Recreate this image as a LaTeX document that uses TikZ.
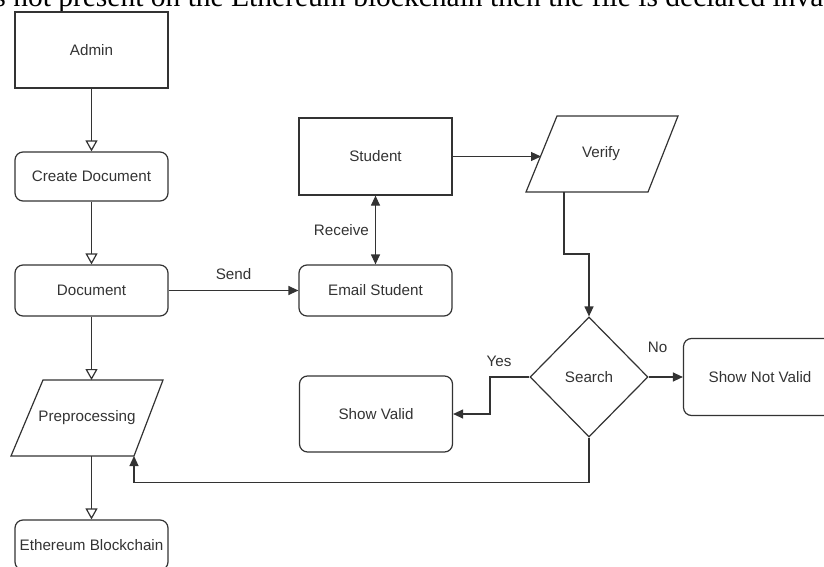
\documentclass[tikz,border=0pt]{standalone}
\usepackage{fontspec}
\setmainfont{Liberation Sans}
\newfontfamily\topserif{Liberation Serif}
\usetikzlibrary{arrows.meta,shapes.geometric}
\begin{document}
\begin{tikzpicture}[x=1pt,y=-1pt,
  ln/.style={draw=black!80, line width=1.2pt},
  txt/.style={text=black!80, font=\fontsize{15.2}{18}\selectfont, inner sep=0pt},
  box/.style={ln, txt, rectangle, minimum width=153pt},
  rbox/.style={box, rounded corners=8pt},
  openarr/.style={ln, -{Triangle[open,length=11pt,width=12pt]}},
  arr/.style={ln, -{Triangle[length=10pt,width=9pt]}},
  darr/.style={ln, {Triangle[length=10pt,width=9pt]}-{Triangle[length=10pt,width=9pt]}},
]
\useasboundingbox (0,0) rectangle (824,567);
\clip (0,0) rectangle (824,567);

% cut-off caption line at the top
\node[anchor=base west, inner sep=0pt, font=\topserif\fontsize{29.5}{32}\selectfont] (caption) at (-14,6.5)
  {is not present on the Ethereum blockchain then the file is declared invalid};

% left column
\node[box, minimum height=76pt] (admin) at (91.5,50) {Admin};
\node[rbox, minimum height=49pt] (create) at (91.5,176.5) {Create Document};
\node[rbox, minimum height=51pt] (document) at (91.5,290.5) {Document};
\coordinate (prepTL) at (43,380);
\coordinate (prepTR) at (163,380);
\coordinate (prepBR) at (134,456);
\coordinate (prepBL) at (11,456);
\draw[ln] (prepTL) -- (prepTR) -- (prepBR) -- (prepBL) -- cycle;
\node[txt] (prep) at (87,418) {Preprocessing};
\node[rbox, minimum height=50pt] (eth) at (91.5,545) {Ethereum Blockchain};

% middle column
\node[box, minimum height=77pt] (student) at (375.5,156.5) {Student};
\node[rbox, minimum height=51pt] (email) at (375.5,290.5) {Email Student};
\node[rbox, minimum height=76pt] (sv) at (376,414) {Show Valid};

% right part
\coordinate (verTL) at (557,116);
\coordinate (verTR) at (678,116);
\coordinate (verBR) at (648,192);
\coordinate (verBL) at (526,192);
\coordinate (verL) at (541,156.5);
\coordinate (verB) at (564,192);
\draw[ln] (verTL) -- (verTR) -- (verBR) -- (verBL) -- cycle;
\node[txt] (verify) at (601,154) {Verify};
\node[ln, txt, diamond, minimum width=118pt, minimum height=120pt] (search) at (589,377) {Search};
\node[rbox, minimum height=77pt] (snv) at (760,377) {Show Not Valid};

% connectors
\draw[openarr] (admin.south) -- (create.north);
\draw[openarr] (create.south) -- (document.north);
\draw[openarr] (document.south) -- (document.south |- prepTL);
\draw[openarr] (eth.north |- prepBL) -- (eth.north);
\draw[arr] (document.east) -- node[txt, above=10pt] (sendlbl) {Send} (document.east -| email.west);
\draw[darr] (student.south) -- node[txt, left=6pt] (recvlbl) {Receive} (email.north);
\draw[arr] (student.east) -- (student.east -| verL);
\draw[arr] (verB) -- ++(0,62) -| (search.north);
\draw[arr] (search.east) -- (search.east -| snv.west);
\draw[arr] (search.west) -- ++(-39.5,0) |- (sv.east);
\draw[arr] (search.south) -- ++(0,45) -| (prepBR);
\node[txt] (yeslbl) at (499,361) {Yes};
\node[txt] (nolbl) at (657.5,347) {No};
\end{tikzpicture}
\end{document}
